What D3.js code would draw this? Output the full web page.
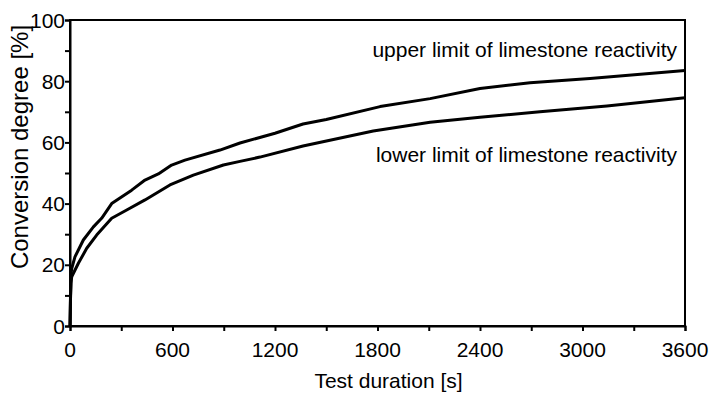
<!DOCTYPE html>
<html>
<head>
<meta charset="utf-8">
<script src="https://cdn.jsdelivr.net/npm/d3@7"></script>
<style>
  body { margin: 0; background: #fff; }
  svg { display: block; font-family: "Liberation Sans", Arial, sans-serif; }
  .curve { fill: none; stroke: #000; stroke-width: 3; stroke-linejoin: round; }
</style>
</head>
<body>
<div id="chart"></div>
<script>
// values (time in s, conversion in %)
const upperTime = [0, 3, 6, 10, 29, 78, 137, 185, 244, 361, 439, 517, 595, 673, 878, 995, 1200, 1364, 1500, 1815, 2108, 2400, 2693, 3044, 3600];
const upperConv = [0, 10, 17, 18.8, 22.6, 28.1, 32.4, 35.2, 40.0, 44.4, 47.7, 49.7, 52.6, 54.2, 57.5, 59.8, 63, 66, 67.5, 71.7, 74.3, 77.6, 79.5, 80.9, 83.5];

const lowerTime = [0, 3, 6, 10, 49, 98, 156, 244, 332, 439, 585, 722, 898, 995, 1112, 1364, 1775, 2108, 2400, 2751, 3143, 3600];
const lowerConv = [0, 9, 14, 16.1, 20.5, 25.4, 29.7, 35.2, 37.9, 41.2, 46.1, 49.3, 52.6, 53.8, 55.2, 58.8, 63.7, 66.6, 68.2, 70, 71.9, 74.6];

const xTicks = [0, 600, 1200, 1800, 2400, 3000, 3600];
const yTicks = [0, 20, 40, 60, 80, 100];

const width = 716, height = 394;
const margin = {top: 20, right: 31, bottom: 68, left: 70};

const svg = d3.select("#chart").append("svg")
    .attr("width", width)
    .attr("height", height);

const x = d3.scaleLinear().domain([0, 3600]).range([margin.left, width - margin.right]);
const y = d3.scaleLinear().domain([0, 100]).range([height - margin.bottom, margin.top]);

// frame
svg.append("rect")
    .attr("x", x(0)).attr("y", y(100))
    .attr("width", x(3600) - x(0)).attr("height", y(0) - y(100))
    .attr("fill", "none").attr("stroke", "#000").attr("stroke-width", 2);

// x axis: ticks every 300, labels every 600
svg.append("g").attr("transform", `translate(0,${y(0)})`)
    .call(d3.axisBottom(x).tickValues(d3.range(0, 3601, 300)).tickSize(5).tickFormat(""));
svg.append("g").selectAll("text").data(xTicks).join("text")
    .attr("x", d => x(d)).attr("y", y(0) + 31)
    .attr("text-anchor", "middle")
    .attr("font-size", 21)
    .text(d => d);

// y axis: ticks every 10, labels every 20
svg.append("g").attr("transform", `translate(${x(0)},0)`)
    .call(d3.axisLeft(y).tickValues(d3.range(0, 101, 10)).tickSize(5).tickFormat(""));
svg.append("g").selectAll("text").data(yTicks).join("text")
    .attr("x", x(0) - 5).attr("y", d => y(d))
    .attr("dy", "0.36em")
    .attr("text-anchor", "end")
    .attr("font-size", 21)
    .text(d => d);

svg.selectAll(".domain").attr("stroke-width", 2);
svg.selectAll(".tick line").attr("stroke-width", 2);

// curves
const line = d3.line().x(d => x(d[0])).y(d => y(d[1]));
svg.append("path").attr("class", "curve").attr("d", line(d3.zip(upperTime, upperConv)));
svg.append("path").attr("class", "curve").attr("d", line(d3.zip(lowerTime, lowerConv)));

// curve labels
svg.append("text").attr("x", x(3600) - 8).attr("y", 57)
    .attr("text-anchor", "end").attr("font-size", 21)
    .text("upper limit of limestone reactivity");
svg.append("text").attr("x", x(3600) - 8).attr("y", 162)
    .attr("text-anchor", "end").attr("font-size", 21)
    .text("lower limit of limestone reactivity");

// axis titles
svg.append("text").attr("x", (x(0) + x(3600)) / 2 + 11).attr("y", 388)
    .attr("text-anchor", "middle").attr("font-size", 21)
    .text("Test duration [s]");
svg.append("text")
    .attr("transform", `translate(28,147) rotate(-90)`)
    .attr("text-anchor", "middle").attr("font-size", 24)
    .text("Conversion degree [%]");
</script>
</body>
</html>
